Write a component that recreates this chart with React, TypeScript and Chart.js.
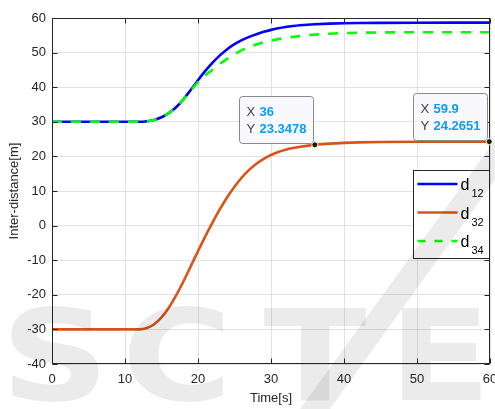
import React, { useEffect, useRef } from 'react';
import { Chart, registerables } from 'chart.js';

Chart.register(...registerables);

// ---- data ----
const timeS = [0, 5, 10, 11, 12, 13, 14, 15, 16, 17, 18, 19, 20, 21, 22, 23, 24, 25, 26, 27, 28, 29, 30, 31, 32, 33, 34, 35, 36, 38, 40, 42, 45, 50, 55, 59.9, 60];
const d12 = [30, 30, 30, 30, 30, 30.15, 30.55, 31.3, 32.5, 34.22, 36.5, 39.2, 42.02, 44.7, 47.1, 49.2, 50.98, 52.43, 53.6, 54.54, 55.33, 56.0, 56.57, 57.03, 57.39, 57.67, 57.89, 58.06, 58.19, 58.37, 58.48, 58.55, 58.6, 58.64, 58.65, 58.65, 58.65];
const d32 = [-30, -30, -30, -30, -30, -29.6, -28.5, -26.55, -23.75, -20.2, -16.15, -11.8, -7.4, -3.1, 0.95, 4.75, 8.2, 11.25, 13.9, 16.1, 17.9, 19.3, 20.4, 21.25, 21.9, 22.4, 22.78, 23.08, 23.3478, 23.7, 23.92, 24.06, 24.17, 24.24, 24.26, 24.2651, 24.266];
const d34 = [30, 30, 30, 30, 30, 30.15, 30.55, 31.3, 32.5, 34.2, 36.45, 39.0, 41.45, 43.45, 45.1, 46.7, 48.2, 49.55, 50.7, 51.6, 52.35, 52.97, 53.47, 53.9, 54.25, 54.55, 54.8, 55.02, 55.2, 55.47, 55.63, 55.73, 55.82, 55.88, 55.9, 55.9, 55.9];

const xMin = 0, xMax = 60, xStep = 10;
const yMin = -40, yMax = 60, yStep = 10;

const seriesSubs = ['12', '32', '34'];
const seriesColors = ['#0000ff', '#d95319', '#00ff00'];

const tipX = [36, 59.9];
const tipY = [23.3478, 24.2651];
const tipXText = ['36', '59.9'];
const tipYText = ['23.3478', '24.2651'];

const xTitle = 'Time[s]';
const yTitle = 'Inter-distance[m]';
const watermark = ['S', 'C', 'T', 'E'];

const FONT = '"Liberation Sans", Arial, Helvetica, sans-serif';
const AXIS = '#262626';

const pts = (ys: number[]) => timeS.map((t, i) => ({ x: t, y: ys[i] }));

const decor = {
  id: 'decor',
  beforeDraw(chart: any) {
    const { ctx, width, height } = chart;
    ctx.save();
    ctx.fillStyle = '#ffffff';
    ctx.fillRect(0, 0, width, height);
    ctx.restore();
  },
  afterDraw(chart: any) {
    const { ctx, chartArea: ca, scales } = chart;
    const xs = scales.x, ys = scales.y;
    ctx.save();

    // axes box
    const L = Math.round(ca.left) + 0.5, T = Math.round(ca.top) + 0.5;
    const R = Math.round(ca.right) - 0.5, B = Math.round(ca.bottom) - 0.5;
    ctx.strokeStyle = AXIS;
    ctx.lineWidth = 1;
    ctx.setLineDash([]);
    ctx.strokeRect(L, T, R - L, B - T);

    // inward ticks
    const tl = 5;
    ctx.beginPath();
    for (let v = xMin; v <= xMax; v += xStep) {
      const p = Math.round(xs.getPixelForValue(v)) + 0.5;
      ctx.moveTo(p, B); ctx.lineTo(p, B - tl);
      ctx.moveTo(p, T); ctx.lineTo(p, T + tl);
    }
    for (let v = yMin; v <= yMax; v += yStep) {
      const p = Math.round(ys.getPixelForValue(v)) + 0.5;
      ctx.moveTo(L, p); ctx.lineTo(L + tl, p);
      ctx.moveTo(R, p); ctx.lineTo(R - tl, p);
    }
    ctx.stroke();

    // titles
    ctx.fillStyle = AXIS;
    ctx.font = `13px ${FONT}`;
    ctx.textAlign = 'center';
    ctx.textBaseline = 'middle';
    ctx.fillText(xTitle, (ca.left + ca.right) / 2, 398);
    ctx.save();
    ctx.translate(14, (ca.top + ca.bottom) / 2);
    ctx.rotate(-Math.PI / 2);
    ctx.fillText(yTitle, 0, 0);
    ctx.restore();

    // legend
    const lw = 76, lh = 88;
    const lx = Math.round(ca.right) - 77 + 0.5, ly = 170.5;
    ctx.fillStyle = '#ffffff';
    ctx.fillRect(lx, ly, lw, lh);
    ctx.strokeStyle = AXIS;
    ctx.lineWidth = 1;
    ctx.strokeRect(lx, ly, lw, lh);
    seriesSubs.forEach((sub, i) => {
      const ry = ly + 13.5 + i * 28.5;
      ctx.strokeStyle = seriesColors[i];
      ctx.lineWidth = 2.6;
      ctx.setLineDash(i === 2 ? [8, 9] : []);
      ctx.beginPath();
      ctx.moveTo(lx + 4, ry);
      ctx.lineTo(lx + 44, ry);
      ctx.stroke();
      ctx.setLineDash([]);
      ctx.fillStyle = '#000000';
      ctx.textAlign = 'left';
      ctx.textBaseline = 'alphabetic';
      ctx.font = `16px ${FONT}`;
      ctx.fillText('d', lx + 47, ry + 6);
      ctx.font = `11px ${FONT}`;
      ctx.fillText(sub, lx + 58, ry + 13);
    });

    // watermark
    ctx.fillStyle = 'rgba(0,0,0,0.08)';
    ctx.font = `bold 126px "DejaVu Sans", sans-serif`;
    ctx.textAlign = 'center';
    ctx.textBaseline = 'alphabetic';
    const centers = [55, 177, 315, 440];
    watermark.forEach((ch, i) => {
      ctx.save();
      ctx.translate(centers[i], 400);
      ctx.scale(1.2, 1);
      ctx.fillText(ch, 0, 0);
      ctx.restore();
    });
    ctx.beginPath();
    ctx.moveTo(300, 409);
    ctx.lineTo(330, 409);
    ctx.lineTo(495, 180);
    ctx.lineTo(495, 140);
    ctx.closePath();
    ctx.fill();

    // data tips
    tipX.forEach((tx, i) => {
      const px = xs.getPixelForValue(tx);
      const py = ys.getPixelForValue(tipY[i]);
      ctx.font = `bold 13px ${FONT}`;
      const nw = Math.max(ctx.measureText(tipXText[i]).width, ctx.measureText(tipYText[i]).width);
      const w = 19 + nw + 8, h = 47;
      const right = Math.round(px - 2) + 0.5, bottom = Math.round(py - 2) + 0.5;
      const left = right - w, top = bottom - h;
      ctx.beginPath();
      (ctx as any).roundRect(left, top, w, h, 3);
      ctx.fillStyle = '#f9f9fd';
      ctx.fill();
      ctx.strokeStyle = '#8a8a8a';
      ctx.lineWidth = 1;
      ctx.stroke();
      ctx.textAlign = 'left';
      ctx.textBaseline = 'middle';
      ctx.fillStyle = '#404040';
      ctx.font = `13px ${FONT}`;
      ctx.fillText('X', left + 7, top + 16);
      ctx.fillText('Y', left + 7, top + 32.5);
      ctx.fillStyle = '#0a9bff';
      ctx.font = `bold 13px ${FONT}`;
      ctx.fillText(tipXText[i], left + 20, top + 16);
      ctx.fillText(tipYText[i], left + 20, top + 32.5);
      // marker
      ctx.beginPath();
      ctx.arc(px, py, 3, 0, Math.PI * 2);
      ctx.fillStyle = '#1a1a1a';
      ctx.fill();
      ctx.strokeStyle = '#fffbc8';
      ctx.lineWidth = 1;
      ctx.stroke();
    });

    ctx.restore();
  },
};

export default function App() {
  const ref = useRef<HTMLCanvasElement>(null);
  useEffect(() => {
    document.body.style.margin = '0';
    const chart = new Chart(ref.current as HTMLCanvasElement, {
      type: 'scatter',
      data: {
        datasets: [
          { label: 'd12', data: pts(d12), borderColor: seriesColors[0], borderWidth: 2.6, showLine: true, pointRadius: 0, cubicInterpolationMode: 'monotone', order: 2 } as any,
          { label: 'd32', data: pts(d32), borderColor: seriesColors[1], borderWidth: 2.6, showLine: true, pointRadius: 0, cubicInterpolationMode: 'monotone', order: 1 } as any,
          { label: 'd34', data: pts(d34), borderColor: seriesColors[2], borderWidth: 2.6, borderDash: [10, 9], showLine: true, pointRadius: 0, cubicInterpolationMode: 'monotone', order: 0 } as any,
        ],
      },
      options: {
        responsive: false,
        animation: false,
        devicePixelRatio: 1,
        layout: { padding: { top: 18, right: 5, left: 0, bottom: 0 } },
        plugins: { legend: { display: false }, tooltip: { enabled: false } },
        scales: {
          x: {
            type: 'linear', min: xMin, max: xMax,
            ticks: { stepSize: xStep, autoSkip: false, maxRotation: 0, padding: 8, color: AXIS, font: { family: FONT, size: 13 } },
            grid: { color: '#e2e2e2', drawTicks: false, lineWidth: 1 },
            border: { display: false },
            afterFit: (s: any) => { s.height = 45; s.paddingLeft = 0; s.paddingRight = 0; },
          },
          y: {
            type: 'linear', min: yMin, max: yMax,
            ticks: { stepSize: yStep, autoSkip: false, padding: 6, color: AXIS, font: { family: FONT, size: 13 } },
            grid: { color: '#e2e2e2', drawTicks: false, lineWidth: 1 },
            border: { display: false },
            afterFit: (s: any) => { s.width = 52; s.paddingTop = 0; s.paddingBottom = 0; },
          },
        },
      },
      plugins: [decor],
    } as any);
    return () => chart.destroy();
  }, []);
  return (
    <div style={{ position: 'fixed', left: 0, top: 0, width: 495, height: 409, background: '#fff' }}>
      <canvas ref={ref} width={495} height={409} style={{ display: 'block', width: 495, height: 409 }} />
    </div>
  );
}
